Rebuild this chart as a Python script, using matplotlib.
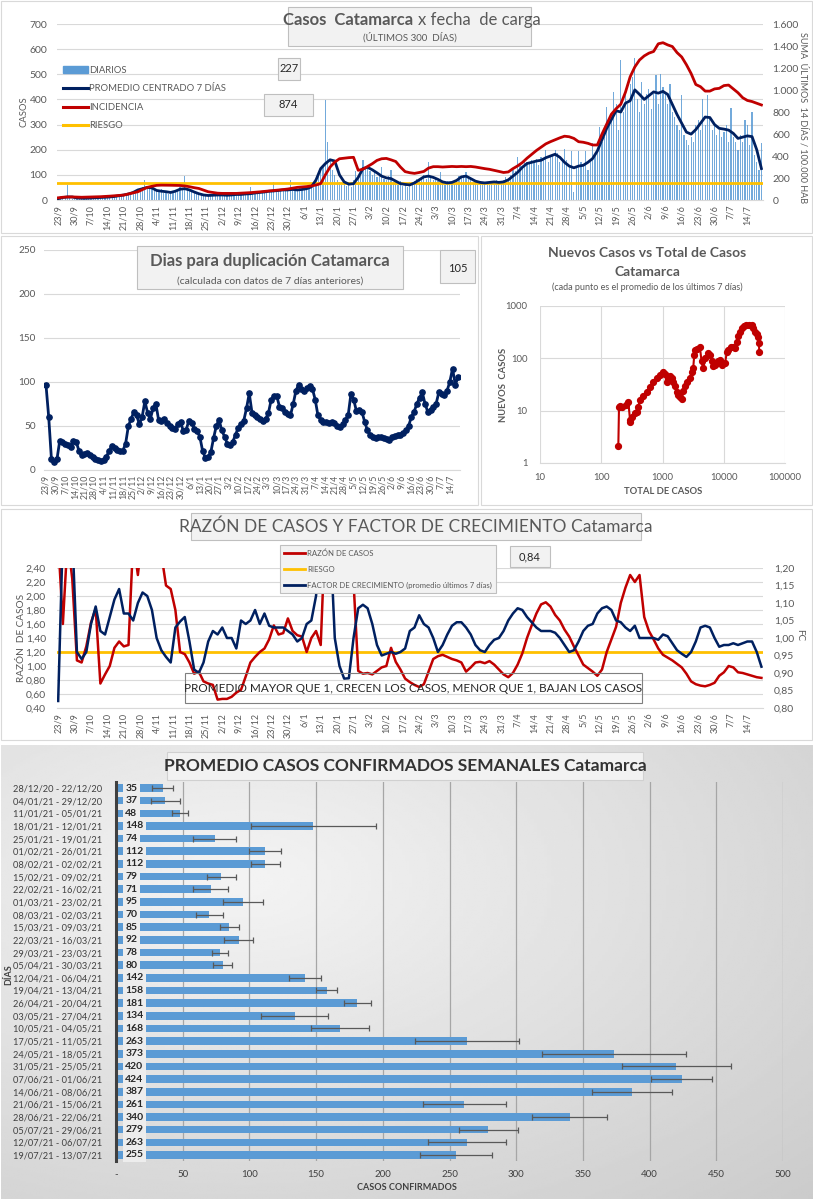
import numpy as np
import matplotlib
matplotlib.use('Agg')
import matplotlib.pyplot as plt
from matplotlib.patches import Rectangle, Patch
from matplotlib.lines import Line2D

plt.rcParams['font.family'] = ['Lato', 'DejaVu Sans']

# ---------------- DATA ----------------
TICK_LABELS = ['23/9', '30/9', '7/10', '14/10', '21/10', '28/10', '4/11', '11/11', '18/11', '25/11',
               '2/12', '9/12', '16/12', '23/12', '30/12', '6/1', '13/1', '20/1', '27/1', '3/2',
               '10/2', '17/2', '24/2', '3/3', '10/3', '17/3', '24/3', '31/3', '7/4', '14/4',
               '21/4', '28/4', '5/5', '12/5', '19/5', '26/5', '2/6', '9/6', '16/6', '23/6',
               '30/6', '7/7', '14/7']

# daily cases, 23/9/2020 .. 20/7/2021 (301 days)
DIARIOS = [3, 8, 10, 15, 60, 12, 5,
           4, 6, 8, 10, 5, 7, 9,
           6, 10, 12, 8, 9, 11, 14,
           10, 15, 18, 12, 14, 20, 22,
           18, 24, 28, 20, 32, 38, 42,
           45, 50, 80, 55, 48, 52, 40,
           38, 30, 42, 28, 35, 25, 32,
           30, 38, 45, 50, 40, 95, 42,
           38, 35, 28, 30, 22, 25, 18,
           20, 15, 22, 18, 25, 16, 20,
           22, 18, 20, 25, 17, 22, 24,
           20, 28, 22, 30, 25, 50, 24,
           30, 28, 35, 30, 38, 32, 40,
           35, 73, 38, 42, 35, 40, 45,
           38, 80, 42, 45, 38, 48, 40,
           45, 50, 48, 60, 55, 75, 90,
           110, 140, 398, 232, 165, 120, 100,
           80, 70, 60, 65, 55, 70, 50,
           80, 115, 100, 95, 159, 130, 125,
           115, 100, 110, 90, 100, 133, 85,
           80, 95, 119, 70, 80, 60, 75,
           55, 65, 50, 70, 60, 75, 85,
           80, 90, 100, 85, 152, 95, 80,
           90, 75, 113, 70, 60, 75, 65,
           70, 80, 75, 95, 90, 100, 110,
           85, 90, 70, 80, 65, 75, 70,
           65, 72, 60, 75, 68, 80, 70,
           65, 80, 90, 85, 100, 120, 115,
           172, 140, 130, 165, 150, 145, 160,
           150, 165, 140, 170, 160, 199, 150,
           180, 175, 199, 185, 150, 165, 201,
           160, 140, 193, 30, 130, 193, 150,
           140, 196, 120, 150, 228, 180, 200,
           292, 230, 250, 371, 300, 330, 431,
           380, 280, 557, 350, 420, 380, 460,
           491, 564, 400, 350, 470, 380, 420,
           440, 360, 420, 497, 380, 501, 450,
           420, 380, 460, 350, 330, 300, 280,
           418, 260, 240, 220, 250, 230, 300,
           320, 280, 401, 300, 418, 330, 280,
           300, 260, 280, 250, 270, 300, 230,
           365, 250, 230, 200, 260, 230, 320,
           300, 220, 351, 180, 150, 120, 227]

# series sampled every 2nd day (day 0, 2, ..., 300)
PROMEDIO = [5, 10, 12, 12, 8, 7, 7, 8, 9, 10,
            11, 12, 14, 17, 20, 24, 30, 40, 45, 50,
            48, 38, 35, 33, 30, 35, 43, 45, 40, 32,
            25, 20, 18, 19, 20, 20, 19, 20, 22, 22,
            24, 25, 28, 30, 32, 35, 36, 38, 40, 40,
            42, 40, 42, 45, 52, 80, 125, 145, 160, 155,
            100, 72, 63, 65, 90, 125, 130, 120, 108, 95,
            88, 85, 75, 65, 62, 60, 68, 80, 92, 95,
            90, 82, 72, 68, 70, 78, 92, 95, 85, 75,
            70, 68, 70, 72, 70, 72, 80, 95, 110, 130,
            145, 150, 155, 158, 168, 175, 182, 170, 150, 135,
            128, 135, 138, 150, 165, 195, 240, 285, 320, 355,
            350, 385, 395, 438, 420, 400, 415, 430, 425, 432,
            420, 380, 340, 305, 270, 262, 280, 305, 330, 328,
            300, 285, 282, 278, 265, 245, 250, 255, 252, 200,
            125]

INCIDENCIA = [20, 25, 28, 28, 26, 25, 26, 27, 28, 30,
              32, 35, 38, 42, 45, 55, 65, 75, 95, 115,
              125, 133, 135, 135, 134, 133, 132, 128, 121, 112,
              105, 90, 75, 68, 62, 60, 60, 60, 60, 62,
              64, 67, 70, 74, 78, 82, 86, 90, 95, 100,
              108, 115, 118, 122, 128, 136, 150, 230, 300, 345,
              375, 380, 385, 388, 270, 280, 305, 330, 360, 375,
              378, 365, 350, 300, 258, 248, 242, 250, 260, 290,
              303, 303, 300, 303, 305, 303, 305, 303, 305, 300,
              292, 285, 279, 270, 260, 250, 255, 285, 310, 340,
              380, 415, 450, 480, 510, 530, 548, 565, 580, 575,
              560, 530, 525, 515, 500, 500, 600, 690, 780, 830,
              870, 980, 1120, 1210, 1273, 1310, 1335, 1350, 1420, 1430,
              1410, 1395, 1340, 1300, 1230, 1150, 1050, 1030, 990, 990,
              1010, 1015, 1040, 1045, 1010, 975, 930, 905, 895, 880,
              864]

RIESGO_CASOS = 66

DUPLICACION = [97, 60, 12, 9, 12, 33, 32, 30, 28, 26,
               33, 32, 22, 17, 18, 19, 17, 15, 13, 11,
               10, 11, 15, 22, 27, 25, 23, 21, 22, 30,
               50, 58, 66, 62, 52, 60, 78, 65, 58, 70,
               75, 57, 56, 58, 53, 50, 48, 47, 52, 55,
               44, 45, 56, 53, 47, 44, 38, 22, 14, 15,
               20, 36, 50, 57, 45, 38, 30, 28, 32, 40,
               48, 52, 56, 70, 87, 65, 62, 60, 58, 56,
               58, 65, 80, 84, 84, 72, 70, 66, 64, 62,
               75, 90, 97, 92, 90, 93, 95, 92, 80, 62,
               57, 55, 54, 53, 55, 53, 50, 49, 52, 57,
               62, 86, 80, 67, 68, 66, 55, 45, 40, 37,
               36, 37, 37, 36, 35, 34, 37, 39, 40, 40,
               42, 45, 50, 60, 66, 75, 82, 88, 75, 66,
               68, 72, 75, 88, 86, 85, 90, 100, 115, 97,
               105]

TOTAL_CASOS = [190, 195, 200, 215, 250, 277, 295, 300, 320, 350, 380, 400, 430, 480, 550,
               620, 710, 800, 910, 1000, 1080, 1170, 1250, 1330, 1420, 1500, 1600, 1700, 1800,
               1930, 2050, 2200, 2340, 2550, 2820, 3000, 3170, 3300, 3400, 3700, 4080, 4340,
               4620, 5000, 5500, 6000, 6400, 6800, 7200, 7650, 8200, 8700, 9500, 10500, 11200,
               11800, 13000, 14400, 15300, 16300, 17400, 18500, 20000, 21500, 23500, 26000,
               28700, 30500, 32400, 34500, 36400, 37500, 38000]
NUEVOS_CASOS = [2.1, 12, 12.5, 12, 13, 14.8, 6.6, 6.2, 7.5, 9, 9.6, 12, 16, 19, 23,
                28, 36, 42, 48, 54, 50, 36, 40, 45, 42, 36, 30, 23, 20,
                18.6, 16.7, 24, 29, 35, 42, 55, 64, 116, 145, 150, 167, 87,
                64, 100, 125, 115, 87, 70, 75, 80, 90, 93, 75, 80, 130,
                145, 165, 167, 160, 208, 270, 324, 380, 420, 437, 440,
                437, 380, 324, 290, 259, 200, 134]

RAZON = [2.8, 1.6, 2.8, 2.25, 1.08, 1.05, 1.28, 1.62, 1.82, 0.75,
         0.88, 1.0, 1.26, 1.35, 1.28, 1.3, 2.8, 2.3, 2.9, 3.0,
         3.0, 3.0, 2.6, 2.15, 2.1, 1.8, 1.2, 1.17, 1.05, 0.89,
         0.92, 0.78, 0.75, 0.73, 0.52, 0.53, 0.53, 0.56, 0.62, 0.66,
         0.85, 1.05, 1.13, 1.2, 1.25, 1.38, 1.58, 1.45, 1.47, 1.68,
         1.5, 1.44, 1.42, 1.2, 1.4, 1.5, 1.3, 3.0, 3.0, 3.0,
         3.0, 3.0, 3.0, 2.2, 0.93, 0.89, 0.9, 0.88, 0.93, 0.98,
         1.0, 1.26, 1.06, 0.95, 0.82, 0.77, 0.73, 0.7, 0.74, 0.92,
         1.1, 1.14, 1.16, 1.13, 1.1, 1.08, 1.05, 0.92, 0.98, 1.05,
         1.06, 1.04, 1.07, 1.02, 0.95, 0.88, 0.84, 0.9, 1.02, 1.18,
         1.4, 1.58, 1.75, 1.88, 1.91, 1.85, 1.73, 1.65, 1.52, 1.42,
         1.28, 1.15, 1.02, 0.97, 0.92, 0.86, 0.95, 1.2, 1.38, 1.56,
         1.9, 2.12, 2.3, 2.2, 2.3, 1.7, 1.5, 1.38, 1.25, 1.16,
         1.12, 1.08, 1.03, 0.98, 0.89, 0.78, 0.74, 0.72, 0.71, 0.73,
         0.76, 0.86, 0.91, 1.0, 0.98, 0.91, 0.9, 0.88, 0.86, 0.84,
         0.83]
RIESGO_RAZON = 1.2

FC = [0.82, 1.3, 1.3, 1.3, 0.96, 0.94, 0.96, 1.04, 1.09, 1.02,
      1.01, 1.06, 1.11, 1.14, 1.07, 1.07, 1.05, 1.10, 1.13, 1.12,
      1.08, 1.0, 0.965, 0.946, 0.93, 1.03, 1.047, 1.06, 0.99, 0.91,
      0.9, 0.93, 0.99, 1.02, 1.01, 1.03, 1.0, 1.0, 0.97, 1.05,
      1.04, 1.05, 1.08, 1.04, 1.07, 1.035, 1.03, 1.03, 1.03, 1.02,
      1.01, 0.99, 1.0, 1.04, 1.05, 1.12, 1.3, 1.3, 1.3, 1.0,
      0.92, 0.884, 0.885, 1.0, 1.085, 1.095, 1.085, 1.04, 0.98, 0.95,
      0.955, 0.96, 0.955, 0.96, 0.97, 1.02, 1.03, 1.065, 1.04, 1.03,
      1.0, 0.96, 0.98, 1.01, 1.035, 1.045, 1.045, 1.03, 1.01, 0.98,
      0.965, 0.96, 0.98, 0.995, 1.0, 1.02, 1.05, 1.07, 1.085, 1.08,
      1.06, 1.045, 1.03, 1.02, 1.02, 1.02, 1.015, 1.0, 0.98, 0.96,
      0.965, 0.99, 1.02, 1.035, 1.04, 1.07, 1.085, 1.09, 1.08, 1.05,
      1.045, 1.03, 1.02, 1.035, 1.0, 1.0, 1.0, 1.0, 0.995, 1.01,
      1.005, 0.985, 0.965, 0.955, 0.946, 0.96, 0.99, 1.03, 1.035, 1.03,
      1.0, 0.975, 0.98, 0.98, 0.985, 0.98, 0.985, 0.99, 0.99, 0.96,
      0.918]

SEMANAS = ['28/12/20 - 22/12/20', '04/01/21 - 29/12/20', '11/01/21 - 05/01/21', '18/01/21 - 12/01/21',
           '25/01/21 - 19/01/21', '01/02/21 - 26/01/21', '08/02/21 - 02/02/21', '15/02/21 - 09/02/21',
           '22/02/21 - 16/02/21', '01/03/21 - 23/02/21', '08/03/21 - 02/03/21', '15/03/21 - 09/03/21',
           '22/03/21 - 16/03/21', '29/03/21 - 23/03/21', '05/04/21 - 30/03/21', '12/04/21 - 06/04/21',
           '19/04/21 - 13/04/21', '26/04/21 - 20/04/21', '03/05/21 - 27/04/21', '10/05/21 - 04/05/21',
           '17/05/21 - 11/05/21', '24/05/21 - 18/05/21', '31/05/21 - 25/05/21', '07/06/21 - 01/06/21',
           '14/06/21 - 08/06/21', '21/06/21 - 15/06/21', '28/06/21 - 22/06/21', '05/07/21 - 29/06/21',
           '12/07/21 - 06/07/21', '19/07/21 - 13/07/21']
PROMEDIO_SEMANAL = [35, 37, 48, 148, 74, 112, 112, 79, 71, 95, 70, 85, 92, 78, 80,
                    142, 158, 181, 134, 168, 263, 373, 420, 424, 387, 261, 340, 279, 263, 255]
ERROR_SEMANAL = [8, 11, 6, 47, 16, 12, 11, 11, 13, 15, 10, 7, 11, 6, 7,
                 12, 8, 10, 25, 22, 39, 54, 41, 23, 30, 31, 28, 22, 29, 27]

ULTIMO_DIARIO = '227'
ULTIMA_INCIDENCIA = '874'
ULTIMA_DUPLICACION = '105'
ULTIMA_RAZON = '0,84'

# ---------------- STYLE ----------------
GRAY = '#595959'
GRID = '#d9d9d9'
NAVY = '#002060'
RED = '#C00000'
ORANGE = '#FFC000'
BLUE = '#5B9BD5'

W, H = 813, 1200
fig = plt.figure(figsize=(W / 100, H / 100), dpi=100)


def rect(x0, y0, x1, y1):
    return [x0 / W, 1 - y1 / H, (x1 - x0) / W, (y1 - y0) / H]


def box(x0, y0, x1, y1, fc='#f2f2f2', ec='#bfbfbf', lw=0.8, z=2):
    fig.patches.append(Rectangle((x0 / W, 1 - y1 / H), (x1 - x0) / W, (y1 - y0) / H,
                                 transform=fig.transFigure, facecolor=fc, edgecolor=ec,
                                 lw=lw, zorder=z))


def ftext(x, y, s, **kw):
    kw.setdefault('ha', 'center')
    kw.setdefault('va', 'center')
    kw.setdefault('color', GRAY)
    fig.text(x / W, 1 - y / H, s, **kw)


def style_axes(ax):
    for s in ['top', 'left', 'right']:
        ax.spines[s].set_visible(False)
    ax.spines['bottom'].set_color(GRID)
    ax.tick_params(axis='both', length=0, colors=GRAY)
    ax.grid(axis='y', color=GRID, lw=0.8)
    ax.set_axisbelow(True)


days = np.arange(len(DIARIOS))
d2 = days[::2]
tick_pos = days[::7][:len(TICK_LABELS)]

# panel borders
box(1, 1, 812, 233, fc='none', ec='#d9d9d9', z=1)
box(1, 236, 478, 505, fc='none', ec='#d9d9d9', z=1)
box(481, 236, 812, 505, fc='none', ec='#d9d9d9', z=1)
box(1, 509, 812, 740, fc='none', ec='#d9d9d9', z=1)

# ================= PANEL 1 =================
ax1 = fig.add_axes(rect(57, 24, 762.6, 200))
ax1.bar(days, DIARIOS, width=0.5, color=BLUE, alpha=0.85, zorder=2)
ax1.plot(d2, PROMEDIO, color=NAVY, lw=2, zorder=4)
ax1.axhline(RIESGO_CASOS, color=ORANGE, lw=2, zorder=3)
ax1.set_xlim(-0.5, 300.5)
ax1.set_ylim(0, 700)
ax1.set_yticks(range(0, 701, 100))
ax1.set_xticks(tick_pos)
ax1.set_xticklabels(TICK_LABELS, rotation=90, fontsize=6.5)
ax1.tick_params(axis='y', labelsize=7.5, pad=7)
style_axes(ax1)
ax1r = ax1.twinx()
ax1r.plot(d2, INCIDENCIA, color=RED, lw=2, zorder=4)
ax1r.set_ylim(0, 1600)
ax1r.set_yticks(range(0, 1601, 200))
ax1r.set_yticklabels([f'{v:,}'.replace(',', '.') for v in range(0, 1601, 200)])
for s in ['top', 'left', 'right', 'bottom']:
    ax1r.spines[s].set_visible(False)
ax1r.tick_params(axis='y', length=0, colors=GRAY, labelsize=7.5, pad=7)

h1 = [Patch(color=BLUE), Line2D([], [], color=NAVY, lw=2.2),
      Line2D([], [], color=RED, lw=2.2), Line2D([], [], color=ORANGE, lw=2.2)]
ax1r.legend(h1, ['DIARIOS', 'PROMEDIO CENTRADO 7 DÍAS', 'INCIDENCIA', 'RIESGO'],
            loc='upper left', bbox_to_anchor=((63 - 57) / 705.6, (200 - 66) / 176),
            frameon=False, fontsize=6.8, labelspacing=1.0, handlelength=2.6,
            handletextpad=0.15, borderaxespad=0, borderpad=0, labelcolor=GRAY)

box(288, 7, 531, 46)
ftext(413, 20, 'Casos  Catamarca', fontsize=12, fontweight='bold', ha='right')
ftext(418, 20, 'x fecha  de carga', fontsize=12, ha='left')
ftext(410, 37, '(ÚLTIMOS 300  DÍAS)', fontsize=7)
box(278, 58, 300, 80)
ftext(289, 69, ULTIMO_DIARIO, fontsize=8, color='#262626')
box(264, 94, 313, 116)
ftext(288.5, 105, ULTIMA_INCIDENCIA, fontsize=8, color='#262626')
ftext(24, 112, 'CASOS', fontsize=6.8, rotation=90)
ftext(803, 118, 'SUMA  ÚLTIMOS  14 DÍAS / 100.000 HAB', fontsize=6.5, rotation=270)

# ================= PANEL 2 =================
ax2 = fig.add_axes(rect(43.9, 249.7, 460.1, 470))
ax2.plot(d2, DUPLICACION, color=NAVY, lw=2, marker='o', ms=3.8, zorder=3)
ax2.set_xlim(-1.5, 301.5)
ax2.set_ylim(0, 250)
ax2.set_yticks(range(0, 251, 50))
ax2.set_xticks(tick_pos)
ax2.set_xticklabels(TICK_LABELS, rotation=90, fontsize=6.3)
ax2.tick_params(axis='y', labelsize=7.2, pad=6)
style_axes(ax2)
box(137, 246, 403, 289)
ftext(270, 261, 'Dias para duplicación Catamarca', fontsize=12, fontweight='bold')
ftext(270, 281, '(calculada con datos de 7 días anteriores)', fontsize=7.5)
box(440, 250, 475, 283)
ftext(457.5, 268, ULTIMA_DUPLICACION, fontsize=8, color='#262626')

# ================= PANEL 3 =================
ax3 = fig.add_axes(rect(540, 306, 785, 463))
ax3.plot(TOTAL_CASOS, NUEVOS_CASOS, color=RED, lw=1.5, marker='o', ms=4.2, zorder=3)
ax3.set_xscale('log')
ax3.set_yscale('log')
ax3.set_xlim(10, 100000)
ax3.set_ylim(1, 1000)
ax3.set_xticks([10, 100, 1000, 10000, 100000])
ax3.set_xticklabels(['10', '100', '1000', '10000', '100000'])
ax3.set_yticks([1, 10, 100, 1000])
ax3.set_yticklabels(['1', '10', '100', '1000'])
ax3.minorticks_off()
for s in ['top', 'left', 'right']:
    ax3.spines[s].set_visible(False)
ax3.spines['bottom'].set_color(GRID)
ax3.tick_params(axis='both', length=0, colors=GRAY, labelsize=6.8)
ax3.tick_params(axis='y', pad=9)
ax3.tick_params(axis='x', pad=7)
ax3.grid(True, color=GRID, lw=0.8)
ax3.set_axisbelow(True)
ftext(647, 253, 'Nuevos Casos vs Total de Casos', fontsize=10, fontweight='bold')
ftext(647, 272, 'Catamarca', fontsize=10, fontweight='bold')
ftext(647, 287.5, '(cada punto es el promedio de los últimos 7 días)', fontsize=6.5)
ftext(663, 492, 'TOTAL DE CASOS', fontsize=6.8, fontweight='bold')
ftext(503, 385, 'NUEVOS  CASOS', fontsize=6.8, fontweight='bold', rotation=90)

# ================= PANEL 4 =================
ax4 = fig.add_axes(rect(57, 568, 762.6, 708))
ax4.plot(d2, RAZON, color=RED, lw=1.8, zorder=3)
ax4.axhline(RIESGO_RAZON, color=ORANGE, lw=2, zorder=2)
ax4.set_xlim(-0.5, 300.5)
ax4.set_ylim(0.4, 2.4)
yt = np.round(np.arange(0.4, 2.41, 0.2), 2)
ax4.set_yticks(yt)
ax4.set_yticklabels([f'{v:.2f}'.replace('.', ',') for v in yt])
ax4.set_xticks(tick_pos)
ax4.set_xticklabels(TICK_LABELS, rotation=90, fontsize=6.5)
ax4.tick_params(axis='y', labelsize=7.5, pad=8)
style_axes(ax4)
ax4r = ax4.twinx()
ax4r.plot(d2, FC, color=NAVY, lw=1.8, zorder=3)
ax4r.set_ylim(0.8, 1.2)
yt2 = np.round(np.arange(0.8, 1.201, 0.05), 2)
ax4r.set_yticks(yt2)
ax4r.set_yticklabels([f'{v:.2f}'.replace('.', ',') for v in yt2])
for s in ['top', 'left', 'right', 'bottom']:
    ax4r.spines[s].set_visible(False)
ax4r.tick_params(axis='y', length=0, colors=GRAY, labelsize=7.5, pad=8)
h4 = [Line2D([], [], color=RED, lw=2), Line2D([], [], color=ORANGE, lw=2),
      Line2D([], [], color=NAVY, lw=2)]
leg4 = ax4r.legend(h4, ['RAZÓN DE CASOS', 'RIESGO', 'FACTOR DE CRECIMIENTO (promedio últimos 7 días)'],
                   loc='upper left', bbox_to_anchor=((280 - 57) / 705.6, (708 - 545) / 140),
                   frameon=True, fancybox=False, framealpha=1, facecolor='#f2f2f2',
                   edgecolor='#bfbfbf', fontsize=5.6, labelspacing=1.15, handlelength=2.6,
                   handletextpad=0.3, borderaxespad=0, borderpad=0.55, labelcolor=GRAY)
leg4.get_frame().set_linewidth(0.8)
leg4.set_zorder(10)

box(191, 513, 641, 540)
ftext(416, 527, 'RAZÓN DE CASOS Y FACTOR DE CRECIMIENTO Catamarca', fontsize=12.5)
box(510, 546, 550, 567)
ftext(530, 556.5, ULTIMA_RAZON, fontsize=8, color='#262626')
box(185, 673, 642, 703, fc='none', ec='#7f7f7f', z=1.5)
ftext(413, 689, 'PROMEDIO MAYOR QUE 1, CRECEN LOS CASOS, MENOR QUE 1, BAJAN LOS CASOS',
      fontsize=8.5, color='#262626')
ftext(22, 638, 'RAZÓN  DE CASOS', fontsize=7.2, rotation=90)
ftext(800, 635, 'FC', fontsize=7.2, rotation=270)

# ================= PANEL 5 =================
bg = fig.add_axes(rect(1, 745, 812, 1199), zorder=-5)
gy, gx = np.mgrid[0:1:240j, 0:1:240j]
shade = np.clip(0.955 - 0.16 * np.sqrt((gx - 0.3) ** 2 + (gy - 0.3) ** 2), 0, 1)
bg.imshow(shade, cmap='gray', vmin=0, vmax=1, extent=[0, 1, 0, 1], aspect='auto', origin='upper')
bg.axis('off')

ax5 = fig.add_axes(rect(116, 781.7, 783, 1161.3))
ax5.set_facecolor('none')
ypos = np.arange(len(PROMEDIO_SEMANAL))
ax5.barh(ypos, PROMEDIO_SEMANAL, height=0.6, color=BLUE, zorder=2,
         xerr=ERROR_SEMANAL,
         error_kw=dict(ecolor='#595959', elinewidth=0.9, capsize=2.5, capthick=0.9, zorder=3))
ax5.set_ylim(len(PROMEDIO_SEMANAL) - 0.5, -0.5)
ax5.set_xlim(0, 500)
ax5.set_yticks(ypos)
ax5.set_yticklabels(SEMANAS, fontsize=6.7, color='#404040')
ax5.set_xticks(range(0, 501, 50))
ax5.set_xticklabels(['-'] + [str(v) for v in range(50, 501, 50)], fontsize=7, color='#404040')
ax5.tick_params(axis='both', length=0)
ax5.tick_params(axis='y', pad=10)
ax5.tick_params(axis='x', pad=6)
ax5.grid(axis='x', color='#a6a6a6', lw=0.9)
ax5.set_axisbelow(True)
for s in ['top', 'right', 'bottom']:
    ax5.spines[s].set_visible(False)
ax5.spines['left'].set_color('#404040')
ax5.spines['left'].set_linewidth(2.2)
ax5.spines['left'].set_zorder(5)
for i, v in enumerate(PROMEDIO_SEMANAL):
    ax5.text(7, i, str(v), va='center', ha='left', fontsize=7.5, fontweight='bold',
             color='#262626', zorder=6,
             bbox=dict(facecolor='#ededed', edgecolor='none', pad=2.0))

box(167, 752, 643, 780, fc='#f2f2f2', ec='#d0d0d0')
ftext(405, 766, 'PROMEDIO CASOS CONFIRMADOS SEMANALES Catamarca', fontsize=12.5,
      fontweight='bold', color='#333333')
ftext(407, 1188, 'CASOS CONFIRMADOS', fontsize=6.5, fontweight='bold', color='#404040')
ftext(9, 975, 'DÍAS', fontsize=6.5, fontweight='bold', color='#404040', rotation=90)

fig.savefig('out.png', dpi=100)
